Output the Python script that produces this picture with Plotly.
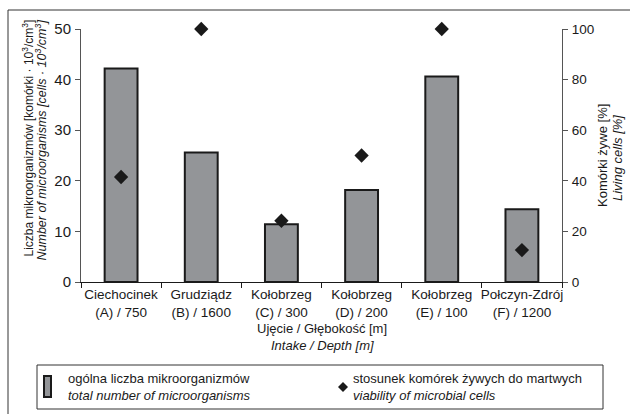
import plotly.graph_objects as go

categories = ["Ciechocinek<br>(A) / 750", "Grudziądz<br>(B) / 1600", "Kołobrzeg<br>(C) / 300",
              "Kołobrzeg<br>(D) / 200", "Kołobrzeg<br>(E) / 100", "Połczyn-Zdrój<br>(F) / 1200"]
total_microorganisms = [42.2, 25.6, 11.4, 18.2, 40.6, 14.4]
living_cells_pct = [41.5, 100, 24.2, 50, 100, 12.6]
left_ticks = [0, 10, 20, 30, 40, 50]
right_ticks = [0, 20, 40, 60, 80, 100]

W, H = 630, 414
L, R, T, B = 81, 68, 29, 132
PW, PH = W - L - R, H - T - B

def px(x):
    return (x - L) / PW

def py(y):
    return (H - B - y) / PH

FONT = "Liberation Sans, Arial, Helvetica, sans-serif"
fs = 13
INK = "#1a1a1a"

fig = go.Figure()
fig.add_trace(go.Bar(x=categories, y=total_microorganisms, width=0.41,
                     marker=dict(color="#939598", line=dict(color=INK, width=2)),
                     yaxis="y", showlegend=False))
fig.add_trace(go.Scatter(x=categories, y=living_cells_pct, mode="markers",
                         marker=dict(symbol="diamond", size=11, color=INK),
                         yaxis="y2", showlegend=False, cliponaxis=False))

fig.update_layout(
    width=W, height=H, margin=dict(l=L, r=R, t=T, b=B, autoexpand=False),
    paper_bgcolor="white", plot_bgcolor="white",
    font=dict(family=FONT, size=fs, color=INK),
    xaxis=dict(type="category", showline=True, linecolor=INK, linewidth=1,
               ticks="outside", tickson="boundaries", ticklen=5, tickcolor=INK,
               showgrid=False, tickfont=dict(size=13.5), tickangle=0, range=[-0.5, 5.5]),
    yaxis=dict(range=[0, 50], tickvals=left_ticks, showline=True, linecolor="#555",
               linewidth=1, ticks="outside", ticklen=5, tickcolor="#555", showgrid=False,
               zeroline=False, tickfont=dict(size=15), ticklabelstandoff=1),
    yaxis2=dict(range=[0, 100], tickvals=right_ticks, overlaying="y", side="right",
                showline=True, linecolor="#555", linewidth=1, ticks="outside", ticklen=5,
                tickcolor="#555", showgrid=False, zeroline=False, tickfont=dict(size=13.5),
                ticklabelstandoff=1),
)

def note(x, y, text, angle=0, xa="center", ya="middle", align="center", size=fs):
    return dict(x=px(x), y=py(y), text=text, textangle=angle, showarrow=False,
                xref="paper", yref="paper", xanchor=xa, yanchor=ya, align=align,
                font=dict(size=size))

ann = [
    note(27, 18, "Liczba mikroorganizmów [komórki · 10<sup>3</sup>/cm<sup>3</sup>]", -90, ya="top", size=12),
    note(40, 18, "<i>Number of microorganisms [cells · 10<sup>3</sup>/cm<sup>3</sup>]</i>", -90, ya="top", size=12.5),
    note(602, 156, "Komórki żywe [%]", -90),
    note(618, 158, "<i>Living cells [%]</i>", -90),
    note(322, 328, "Ujęcie / Głębokość [m]"),
    note(322, 345, "<i>Intake / Depth [m]</i>"),
    note(66, 387, "ogólna liczba mikroorganizmów<br><i>total number of microorganisms</i>", xa="left", align="left"),
    note(351, 387, "stosunek komórek żywych do martwych<br><i>viability of microbial cells</i>", xa="left", align="left"),
]
fig.update_layout(annotations=ann)

shapes = []
# outer frame
shapes.append(dict(type="rect", xref="paper", yref="paper", x0=px(8), x1=px(640), y0=py(430), y1=py(10),
                   line=dict(color="#333", width=1)))
# legend box
shapes.append(dict(type="rect", xref="paper", yref="paper", x0=px(37), x1=px(603), y0=py(409), y1=py(365),
                   line=dict(color="#333", width=1)))
# legend swatch
shapes.append(dict(type="rect", xref="paper", yref="paper", x0=px(44), x1=px(51), y0=py(397), y1=py(376),
                   fillcolor="#939598", line=dict(color=INK, width=2)))
# legend diamond
cx, cy, r = 343, 387, 5
shapes.append(dict(type="path", xref="paper", yref="paper",
                   path=f"M {px(cx-r)} {py(cy)} L {px(cx)} {py(cy-r)} L {px(cx+r)} {py(cy)} L {px(cx)} {py(cy+r)} Z",
                   fillcolor=INK, line=dict(width=0)))
fig.update_layout(shapes=shapes)

fig.write_html("out.html", config={"displayModeBar": False})
with open("out.html", encoding="utf-8") as f:
    html = f.read()
html = html.replace("<head>", "<head><style>html,body{margin:0;padding:0;overflow:hidden;}</style>", 1)
with open("out.html", "w", encoding="utf-8") as f:
    f.write(html)
